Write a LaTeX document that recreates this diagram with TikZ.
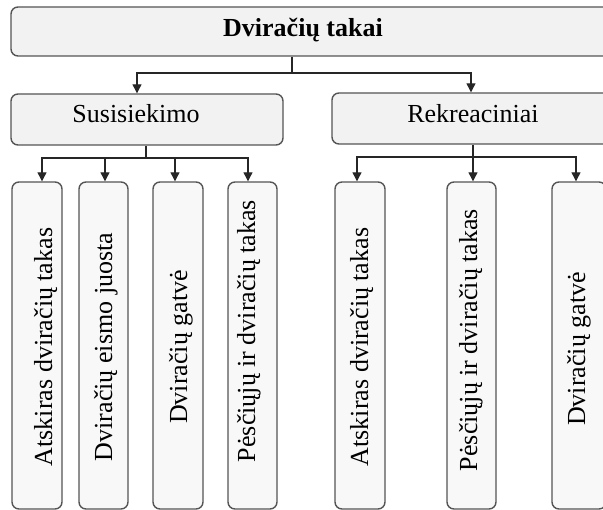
\documentclass[tikz,border=0pt]{standalone}
\usepackage{fontspec}
\setmainfont{Liberation Serif}
\usetikzlibrary{arrows.meta}
\definecolor{boxline}{HTML}{555555}
\definecolor{boxfill}{HTML}{F2F2F2}
\definecolor{leaffill}{HTML}{F8F8F8}
\begin{document}
\begin{tikzpicture}[x=1pt,y=-1pt,
  box/.style={draw=boxline, line width=1.4pt, fill=boxfill, rounded corners=7pt, inner sep=0pt},
  leaf/.style={box, fill=leaffill, minimum height=327pt},
  lbl/.style={font=\fontsize{26}{30}\selectfont, anchor=base, inner sep=0pt},
  vlbl/.style={lbl, rotate=90},
  conn/.style={line width=1.2pt, draw=black!85},
  arr/.style={conn, -{Triangle[width=9pt,length=9pt]}}]
\useasboundingbox (0,0) rectangle (603,510);
\clip (0,0) rectangle (603,510);
\fill[white] (0,0) rectangle (603,510);
% boxes
\node[box, minimum width=609pt, minimum height=49pt] (top) at (315.5,31.5) {};
\node[box, minimum width=272pt, minimum height=51pt] (sus) at (147,119.5) {};
\node[box, minimum width=293pt, minimum height=51pt] (rek) at (478.5,118.5) {};
\node[leaf, minimum width=50pt] (b1) at (37,345.5) {};
\node[leaf, minimum width=49pt] (b2) at (103.5,345.5) {};
\node[leaf, minimum width=50pt] (b3) at (178,345.5) {};
\node[leaf, minimum width=49pt] (b4) at (252.5,345.5) {};
\node[leaf, minimum width=50pt] (b5) at (360,345.5) {};
\node[leaf, minimum width=49pt] (b6) at (471.5,345.5) {};
\node[leaf, minimum width=54pt] (b7) at (579,345.5) {};
% labels
\node[lbl, font={\fontsize{26}{30}\selectfont\bfseries}] (tTop) at (303,37) {Dviračių takai};
\node[lbl] (tSus) at (136,123) {Susisiekimo};
\node[lbl] (tRek) at (473,123) {Rekreaciniai};
\node[vlbl] (t1) at (52,347) {Atskiras dviračių takas};
\node[vlbl] (t2) at (112,347) {Dviračių eismo juosta};
\node[vlbl] (t3) at (187,347) {Dviračių gatvė};
\node[vlbl] (t4) at (255,331) {Pėsčiųjų ir dviračių takas};
\node[vlbl] (t5) at (368,347) {Atskiras dviračių takas};
\node[vlbl] (t6) at (477,340) {Pėsčiųjų ir dviračių takas};
\node[vlbl] (t7) at (585,349) {Dviračių gatvė};
% connectors
\coordinate (j0) at (292,73);
\coordinate (cS) at (137,0);
\coordinate (cR) at (471,0);
\draw[conn] (top.south -| j0) -- (j0);
\draw[arr] (j0) -| (cS |- sus.north);
\draw[arr] (j0) -| (cR |- rek.north);
\coordinate (j1) at (146,158);
\coordinate (a1) at (42,0);
\coordinate (a2) at (105,0);
\coordinate (a3) at (175,0);
\coordinate (a4) at (248,0);
\draw[conn] (sus.south -| j1) -- (j1);
\draw[arr] (j1) -| (a1 |- b1.north);
\draw[arr] (j1) -| (a2 |- b2.north);
\draw[arr] (j1) -| (a3 |- b3.north);
\draw[arr] (j1) -| (a4 |- b4.north);
\coordinate (j2) at (473,157);
\coordinate (a5) at (357,0);
\coordinate (a7) at (576,0);
\draw[arr] (rek.south -| j2) -- (j2 |- b6.north);
\draw[arr] (j2) -| (a5 |- b5.north);
\draw[arr] (j2) -| (a7 |- b7.north);
\end{tikzpicture}
\end{document}
